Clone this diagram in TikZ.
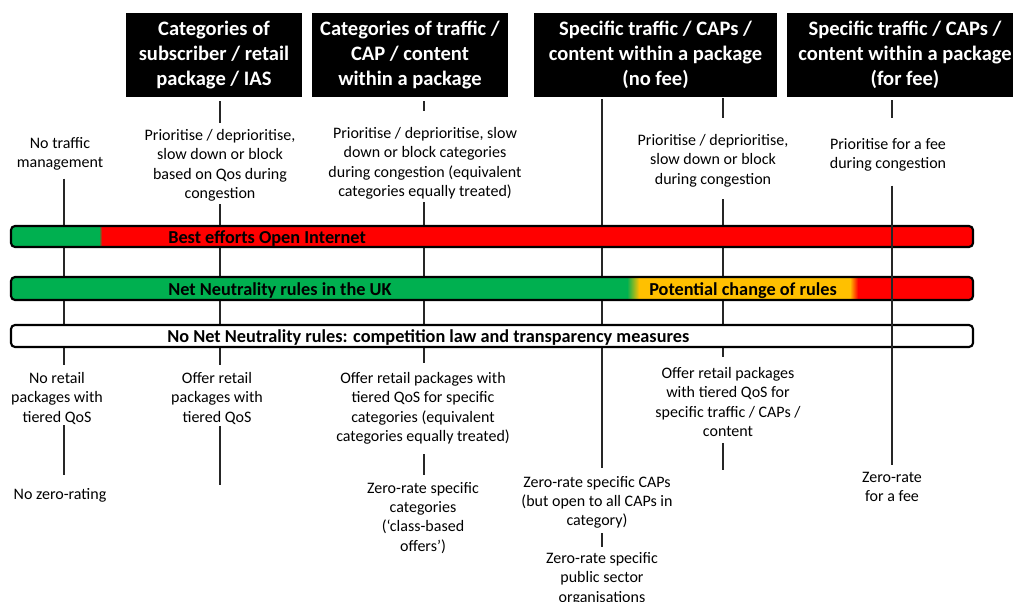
\documentclass[tikz,border=0pt]{standalone}
\usepackage{fontspec}
\setmainfont{Carlito}
\usetikzlibrary{calc}
\definecolor{nngreen}{HTML}{00B050}
\definecolor{nnred}{HTML}{FF0000}
\definecolor{nnyellow}{HTML}{FFC000}
\begin{document}
\begin{tikzpicture}[x=0.75pt,y=-0.75pt,
  hdr/.style={fill=black,draw=none,text=white,font=\fontsize{15.4}{18.8}\selectfont\bfseries,align=center,inner sep=0pt},
  txt/.style={font=\fontsize{12}{14.5}\selectfont,align=center,inner sep=0pt,anchor=north},
  bartxt/.style={font=\fontsize{13.7}{16}\selectfont\bfseries,anchor=west,inner sep=0pt},
  conn/.style={line width=1.1pt,draw=black!85},
  barframe/.style={draw=black,line width=1.6pt,rounded corners=3pt}
]
\useasboundingbox (0,0) rectangle (1013,602);
\clip (0,0) rectangle (1013,602);

% column x positions
\coordinate (x0) at (64,0);
\coordinate (x1) at (220,0);
\coordinate (x2) at (424,0);
\coordinate (x3) at (602,0);
\coordinate (x4) at (723,0);
\coordinate (x5) at (892,0);

% headers
\node[hdr,minimum width=176*0.75pt,minimum height=84*0.75pt] (H1) at (214,55) {Categories of\\subscriber / retail\\package / IAS};
\node[hdr,minimum width=196*0.75pt,minimum height=84*0.75pt] (H2) at (410,55) {Categories of traffic /\\CAP / content\\within a package};
\node[hdr,minimum width=243*0.75pt,minimum height=84*0.75pt] (H3) at (655.5,55) {Specific traffic / CAPs /\\content within a package\\(no fee)};
\node[hdr,minimum width=236*0.75pt,minimum height=84*0.75pt] (H4) at (905,55) {Specific traffic / CAPs /\\content within a package\\(for fee)};

% upper texts
\node[txt] (t0a) at (60,137) {No traffic\\management};
\node[txt] (t1a) at (220,129) {Prioritise / deprioritise,\\slow down or block\\based on Qos during\\congestion};
\node[txt] (t2a) at (425,127) {Prioritise / deprioritise, slow\\down or block categories\\during congestion (equivalent\\categories equally treated)};
\node[txt] (t3ba) at (713,134) {Prioritise / deprioritise,\\slow down or block\\during congestion};
\node[txt] (t4a) at (888,138) {Prioritise for a fee\\during congestion};

% lower texts
\node[txt] (t0b) at (57,372) {No retail\\packages with\\tiered QoS};
\node[txt] (t0c) at (60,488) {No zero-rating};
\node[txt] (t1b) at (217,372) {Offer retail\\packages with\\tiered QoS};
\node[txt] (t2b) at (423,372) {Offer retail packages with\\tiered QoS for specific\\categories (equivalent\\categories equally treated)};
\node[txt] (t2c) at (423,482) {Zero-rate specific\\categories\\(‘class-based\\offers’)};
\node[txt] (t3ab) at (597,476) {Zero-rate specific CAPs\\(but open to all CAPs in\\category)};
\node[txt] (t3ac) at (602,552) {Zero-rate specific\\public sector\\organisations};
\node[txt] (t3bb) at (728,367) {Offer retail packages\\with tiered QoS for\\specific traffic / CAPs /\\content};
\node[txt] (t4b) at (892,472) {Zero-rate\\for a fee};

\coordinate (e1) at (220,485);
\coordinate (e3) at (723,470);

% connectors (behind the bars)
\draw[conn] ($(t0a.south -| x0)+(0,8)$) -- ($(t0b.north -| x0)+(0,-7)$);
\draw[conn] ($(t0b.south -| x0)+(0,1)$) -- ($(t0c.north -| x0)+(0,-13)$);

\draw[conn] ($(H1.south -| x1)+(0,4)$) -- ($(t1a.north -| x1)+(0,-6)$);
\draw[conn] ($(t1a.south -| x1)+(0,3)$) -- ($(t1b.north -| x1)+(0,-7)$);
\draw[conn] ($(t1b.south -| x1)+(0,2)$) -- (e1);

\draw[conn] ($(H2.south -| x2)+(0,4)$) -- ($(t2a.north -| x2)+(0,-16)$);
\draw[conn] ($(t2a.south -| x2)+(0,3)$) -- ($(t2b.north -| x2)+(0,-9)$);
\draw[conn] ($(t2b.south -| x2)+(0,10)$) -- ($(t2c.north -| x2)+(0,-7)$);

\draw[conn] ($(H3.south -| x3)+(0,2)$) -- ($(t3ab.north -| x3)+(0,-8)$);
\draw[conn] ($(t3ab.south -| x3)+(0,4)$) -- ($(t3ac.north -| x3)+(0,-5)$);

\draw[conn] ($(H3.south -| x4)+(0,1)$) -- ($(t3ba.north -| x4)+(0,-16)$);
\draw[conn] ($(t3ba.south -| x4)+(0,12)$) -- ($(t3bb.north -| x4)+(0,-10)$);
\draw[conn] ($(t3bb.south -| x4)+(0,6)$) -- (e3);

\draw[conn] ($(H4.south -| x5)+(0,3)$) -- ($(t4a.north -| x5)+(0,-20)$);

% bar 1
\begin{scope}
\clip[rounded corners=3pt] (11,226) rectangle (973,247);
\fill[nngreen] (11,226) rectangle (99,247);
\shade[left color=nngreen,right color=nnred] (99,226) rectangle (102,247);
\fill[nnred] (102,226) rectangle (973,247);
\end{scope}
\draw[barframe] (11,226) rectangle (973,247);
\node[bartxt] (b1) at (168,238.5) {Best efforts Open Internet};

% bar 2
\begin{scope}
\clip[rounded corners=3pt] (11,277) rectangle (973,300);
\fill[nngreen] (11,277) rectangle (627,300);
\shade[left color=nngreen,right color=nnyellow] (627,277) rectangle (639,300);
\fill[nnyellow] (639,277) rectangle (850,300);
\shade[left color=nnyellow,right color=nnred] (850,277) rectangle (858,300);
\fill[nnred] (858,277) rectangle (973,300);
\end{scope}
\draw[barframe] (11,277) rectangle (973,300);
\node[bartxt] (b2) at (168,290.5) {Net Neutrality rules in the UK};
\node[bartxt] (b2b) at (649,290.5) {Potential change of rules};

% bar 3
\draw[barframe,fill=white] (11,325) rectangle (973,347);
\node[bartxt] (b3) at (167,337.5) {No Net Neutrality rules: competition law and transparency measures};

% col4 long connector over the bars
\draw[conn] ($(t4a.south -| x5)+(0,14)$) -- ($(t4b.north -| x5)+(0,-7)$);
\end{tikzpicture}
\end{document}
